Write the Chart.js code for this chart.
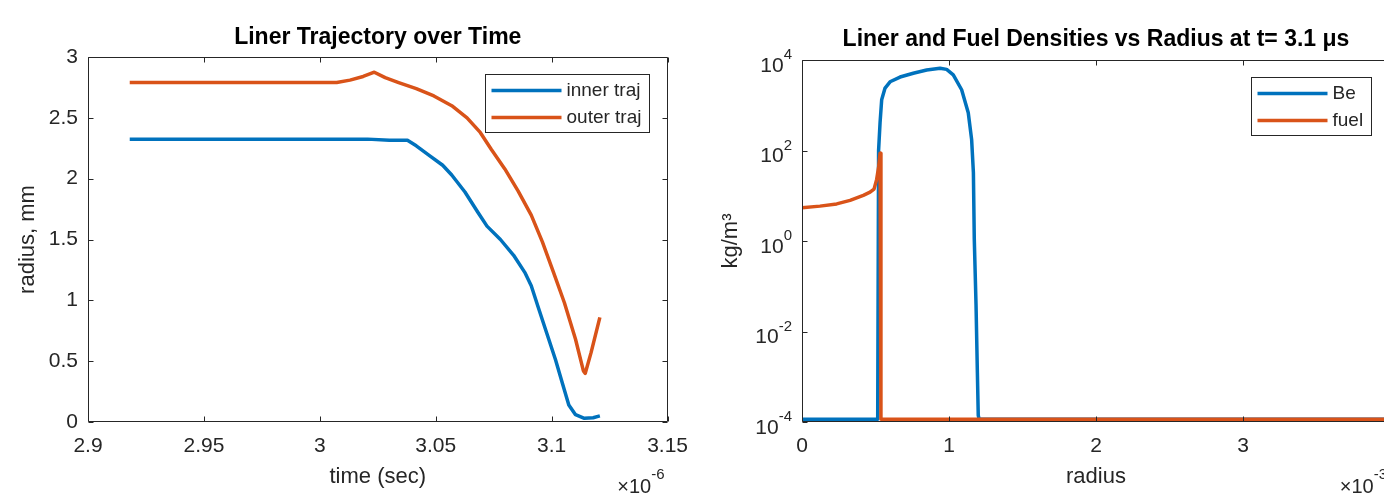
<!DOCTYPE html>
<html>
<head>
<meta charset="utf-8">
<script src="https://cdn.jsdelivr.net/npm/chart.js@4"></script>
<style>
  html, body { margin: 0; padding: 0; background: #fff; overflow: hidden; width: 1384px; height: 497px; position: relative; }
  #trajChart { position: absolute; left: 0; top: 0; }
  #densChart { position: absolute; left: 700px; top: 0; }
</style>
</head>
<body>
<canvas id="trajChart" width="700" height="497"></canvas>
<canvas id="densChart" width="760" height="497"></canvas>
<script>
const FONT = '"Liberation Sans", Arial, Helvetica, sans-serif';
const AXIS = "#262626";
const BLUE = "#0072BD";
const ORANGE = "#D95319";

// left panel: time in units of 1e-6 s, radius in mm
const innerTime = [2.918, 2.96, 3.0, 3.0206, 3.03, 3.0378, 3.0416, 3.0473, 3.053, 3.0569, 3.0626, 3.0683, 3.0721, 3.0779, 3.0836, 3.0884, 3.0912, 3.0941, 3.0979, 3.1017, 3.1046, 3.1074, 3.1103, 3.1141, 3.1179, 3.1208];
const innerRadius = [2.325, 2.325, 2.325, 2.325, 2.315, 2.315, 2.27, 2.19, 2.11, 2.03, 1.89, 1.72, 1.61, 1.5, 1.37, 1.23, 1.12, 0.95, 0.73, 0.51, 0.32, 0.14, 0.06, 0.03, 0.035, 0.05];
const outerTime = [2.918, 2.96, 3.0073, 3.013, 3.0187, 3.0235, 3.0282, 3.034, 3.0416, 3.0492, 3.0569, 3.0635, 3.0692, 3.074, 3.0798, 3.0855, 3.0912, 3.096, 3.1008, 3.1055, 3.1103, 3.1137, 3.1145, 3.117, 3.1208];
const outerRadius = [2.79, 2.79, 2.79, 2.81, 2.84, 2.875, 2.83, 2.79, 2.74, 2.68, 2.6, 2.5, 2.38, 2.24, 2.08, 1.9, 1.7, 1.48, 1.23, 0.98, 0.68, 0.42, 0.4, 0.57, 0.86];
const timeTicks = [2.9, 2.95, 3, 3.05, 3.1, 3.15];
const radiusTicks = [0, 0.5, 1, 1.5, 2, 2.5, 3];

// right panel: radius in units of 1e-3 m, density in kg/m^3
const beRadius = [0, 0.515, 0.521, 0.531, 0.542, 0.565, 0.599, 0.667, 0.757, 0.848, 0.939, 0.984, 1.029, 1.086, 1.131, 1.154, 1.166, 1.172, 1.184, 1.193, 1.199, 1.205, 4.2];
const beDensity = [1.15e-4, 1.15e-4, 100, 410, 1320, 2400, 3300, 4200, 5100, 6000, 6600, 6200, 4700, 2200, 680, 174, 32, 1.1, 0.037, 1.26e-3, 1.4e-4, 1.15e-4, 1.15e-4];
const fuelRadius = [0, 0.122, 0.236, 0.327, 0.417, 0.463, 0.49, 0.508, 0.522, 0.531, 0.537, 4.2];
const fuelDensity = [5.4, 5.9, 6.6, 7.9, 10.2, 12, 14, 23, 45, 87, 1.15e-4, 1.15e-4];
const radiusMmTicks = [0, 1, 2, 3, 4];
const densityTicks = [1e-4, 1e-2, 1, 1e2, 1e4];

Chart.defaults.font.family = FONT;
Chart.defaults.color = AXIS;

const pts = (xs, ys) => xs.map((x, i) => ({ x: x, y: ys[i] }));
const setTicks = (values) => (scale) => { scale.ticks = values.map((v) => ({ value: v })); };

// matlab style box, inward ticks, legend, x10^n note
const matlabAxes = {
  id: "matlabAxes",
  afterDatasetsDraw(chart, args, opts) {
    const { ctx, chartArea: a } = chart;
    const x = chart.scales.x, y = chart.scales.y;
    const L = Math.round(a.left) + 0.5, R = Math.round(a.right) - 0.5;
    const T = Math.round(a.top) + 0.5, B = Math.round(a.bottom) - 0.5;
    ctx.save();
    ctx.strokeStyle = AXIS;
    ctx.lineWidth = 1;
    ctx.beginPath();
    x.ticks.forEach((t) => {
      const p = Math.round(x.getPixelForValue(t.value)) + 0.5;
      ctx.moveTo(p, B); ctx.lineTo(p, B - 5);
      ctx.moveTo(p, T); ctx.lineTo(p, T + 5);
    });
    y.ticks.forEach((t) => {
      const p = Math.round(y.getPixelForValue(t.value)) + 0.5;
      ctx.moveTo(L, p); ctx.lineTo(L + 5, p);
      ctx.moveTo(R, p); ctx.lineTo(R - 5, p);
    });
    ctx.rect(L, T, R - L, B - T);
    ctx.stroke();

    ctx.fillStyle = AXIS;
    ctx.textAlign = "right";
    ctx.textBaseline = "middle";
    if (opts.logLabels) {
      y.ticks.forEach((t) => {
        const p = y.getPixelForValue(t.value);
        const e = String(Math.round(Math.log10(t.value)));
        const xr = a.left - 10;
        ctx.font = "15px " + FONT;
        const ew = ctx.measureText(e).width;
        ctx.fillText(e, xr, p - 5);
        ctx.font = "21px " + FONT;
        ctx.fillText("10", xr - ew, p + 6);
      });
    }
    if (opts.exponent) {
      ctx.font = "15px " + FONT;
      const ew = ctx.measureText(opts.exponent).width;
      ctx.fillText(opts.exponent, a.right - 3, 475);
      ctx.font = "20px " + FONT;
      ctx.fillText("\u00d710", a.right - 3 - ew, 487);
    }

    ctx.font = "19px " + FONT;
    const sets = chart.data.datasets;
    const tw = Math.max(...sets.map((d) => ctx.measureText(d.label).width));
    const w = Math.round(6 + 70 + 5 + tw + 8), h = 58;
    const bx = Math.round(a.right - 19 - w) + 0.5, by = Math.round(a.top + 17) + 0.5;
    ctx.fillStyle = "#fff";
    ctx.fillRect(bx, by, w, h);
    ctx.strokeStyle = AXIS;
    ctx.lineWidth = 1;
    ctx.strokeRect(bx, by, w, h);
    sets.forEach((d, i) => {
      const ly = by + 16 + i * 27;
      ctx.strokeStyle = d.borderColor;
      ctx.lineWidth = d.borderWidth;
      ctx.beginPath();
      ctx.moveTo(bx + 6, ly);
      ctx.lineTo(bx + 76, ly);
      ctx.stroke();
      ctx.fillStyle = AXIS;
      ctx.textAlign = "left";
      ctx.fillText(d.label, bx + 81, ly);
    });
    ctx.restore();
  },
};

const lineStyle = { borderWidth: 3.5, pointRadius: 0, tension: 0, borderJoinStyle: "round" };

new Chart(document.getElementById("trajChart"), {
  type: "line",
  data: {
    datasets: [
      { label: "inner traj", data: pts(innerTime, innerRadius), borderColor: BLUE, order: 2, ...lineStyle },
      { label: "outer traj", data: pts(outerTime, outerRadius), borderColor: ORANGE, order: 1, ...lineStyle },
    ],
  },
  options: {
    responsive: false,
    animation: false,
    layout: { padding: { left: 0, right: 28, top: 0, bottom: 0 } },
    plugins: {
      legend: { display: false },
      tooltip: { enabled: false },
      title: {
        display: true, text: "Liner Trajectory over Time", fullSize: false, color: "#000",
        font: { size: 23, weight: "bold" }, padding: { top: 24.2, bottom: 5.2 },
      },
      matlabAxes: { exponent: "-6" },
    },
    scales: {
      x: {
        type: "linear", min: 2.9, max: 3.15,
        afterBuildTicks: setTicks(timeTicks),
        afterFit: (s) => { s.height = 75; },
        grid: { display: false, drawTicks: false },
        border: { display: false },
        ticks: { font: { size: 21 }, padding: 12, maxRotation: 0, autoSkip: false, callback: (v) => String(v) },
        title: { display: true, text: "time (sec)", font: { size: 22 }, padding: { top: 0, bottom: 7 } },
      },
      y: {
        type: "linear", min: 0, max: 3,
        afterBuildTicks: setTicks(radiusTicks),
        afterFit: (s) => { s.width = 88; },
        grid: { display: false, drawTicks: false },
        border: { display: false },
        ticks: { font: { size: 21 }, padding: 10, autoSkip: false, callback: (v) => String(v) },
        title: { display: true, text: "radius, mm", font: { size: 22 }, padding: { top: 15, bottom: 0 } },
      },
    },
  },
  plugins: [matlabAxes],
});

new Chart(document.getElementById("densChart"), {
  type: "line",
  data: {
    datasets: [
      { label: "Be", data: pts(beRadius, beDensity), borderColor: BLUE, order: 2, ...lineStyle },
      { label: "fuel", data: pts(fuelRadius, fuelDensity), borderColor: ORANGE, order: 1, ...lineStyle },
    ],
  },
  options: {
    responsive: false,
    animation: false,
    layout: { padding: { left: 0, right: 70, top: 0, bottom: 0 } },
    plugins: {
      legend: { display: false },
      tooltip: { enabled: false },
      title: {
        display: true, text: "Liner and Fuel Densities vs Radius at t= 3.1 \u03bcs", fullSize: false, color: "#000",
        font: { size: 23, weight: "bold" }, padding: { top: 26.2, bottom: 6.2 },
      },
      matlabAxes: { exponent: "-3", logLabels: true },
    },
    scales: {
      x: {
        type: "linear", min: 0, max: 4,
        afterBuildTicks: setTicks(radiusMmTicks),
        afterFit: (s) => { s.height = 75; },
        grid: { display: false, drawTicks: false },
        border: { display: false },
        ticks: { font: { size: 21 }, padding: 12, maxRotation: 0, autoSkip: false, callback: (v) => String(v) },
        title: { display: true, text: "radius", font: { size: 22 }, padding: { top: 0, bottom: 7 } },
      },
      y: {
        type: "logarithmic", min: 1e-4, max: 1e4,
        afterBuildTicks: setTicks(densityTicks),
        afterFit: (s) => { s.width = 102; },
        grid: { display: false, drawTicks: false },
        border: { display: false },
        ticks: { display: false },
        title: { display: true, text: "kg/m\u00b3", font: { size: 22 }, padding: { top: 17.5, bottom: 0 } },
      },
    },
  },
  plugins: [matlabAxes],
});
</script>
</body>
</html>
